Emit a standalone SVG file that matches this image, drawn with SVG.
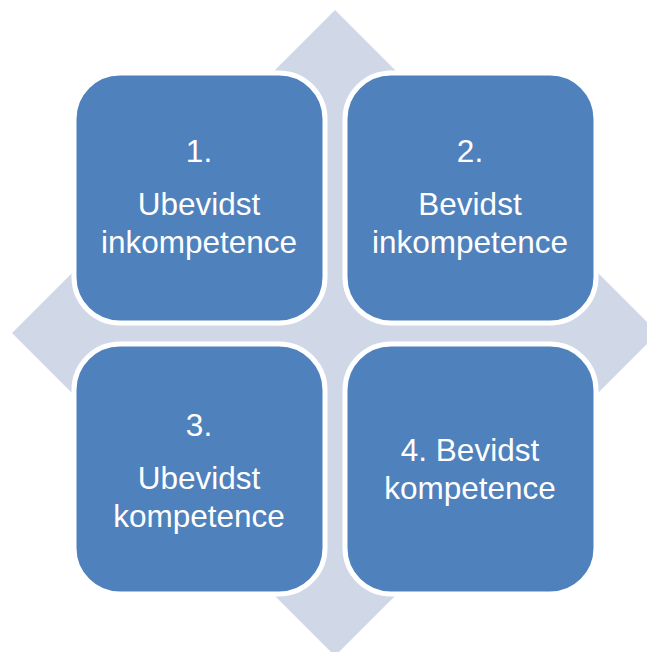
<svg xmlns="http://www.w3.org/2000/svg" width="647" height="652" viewBox="0 0 647 652">
<style>
.box{fill:#4F81BD;stroke:#FFFFFF;stroke-width:5}
.t{fill:#FFFFFF;font-family:"Liberation Sans",Arial,sans-serif;font-size:31.5px;text-anchor:middle}
</style>
<rect width="647" height="652" fill="#FFFFFF"/>
<g id="diamond">
<polygon points="335,10 658,333 335,656 12,333" fill="#D0D8E8"/>
</g>
<g id="connectors"></g>
<g id="node1">
<rect class="box" x="74" y="73" width="251" height="250" rx="46" ry="46"/>
<text class="t" x="199" y="162">1.</text>
<text class="t" x="199" y="215">Ubevidst</text>
<text class="t" x="199" y="253">inkompetence</text>
</g>
<g id="node2">
<rect class="box" x="345" y="73" width="251" height="250" rx="46" ry="46"/>
<text class="t" x="470" y="162">2.</text>
<text class="t" x="470" y="215">Bevidst</text>
<text class="t" x="470" y="253">inkompetence</text>
</g>
<g id="node3">
<rect class="box" x="74" y="344" width="251" height="250" rx="46" ry="46"/>
<text class="t" x="199" y="436">3.</text>
<text class="t" x="199" y="489">Ubevidst</text>
<text class="t" x="199" y="527">kompetence</text>
</g>
<g id="node4">
<rect class="box" x="345" y="344" width="251" height="250" rx="46" ry="46"/>
<text class="t" x="470" y="461">4. Bevidst</text>
<text class="t" x="470" y="499">kompetence</text>
</g>
</svg>
